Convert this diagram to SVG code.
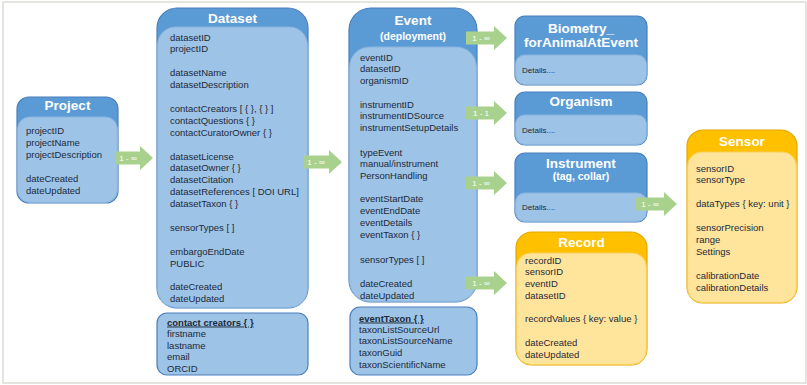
<svg xmlns="http://www.w3.org/2000/svg" width="807" height="385" viewBox="0 0 807 385">
<style>
.frame{fill:#fff;stroke:#dcdcd6;stroke-width:1.5}
.hdr{fill:#5b9bd5;stroke:#4a7ebb;stroke-width:1.2}
.bdy{fill:#9dc3e6;stroke:#8ab4de;stroke-width:1}
.box{fill:#9dc3e6;stroke:#4a7ebb;stroke-width:1.2}
.ohdr{fill:#ffc000;stroke:#e3a700;stroke-width:1.2}
.obdy{fill:#ffe49c;stroke:#f7cf5c;stroke-width:1}
.title{font-family:"Liberation Sans",Arial,sans-serif;font-weight:bold;font-size:13.5px;fill:#fff;text-anchor:middle}
.sub{font-size:10.5px}
.t{font-family:"Liberation Sans",Arial,sans-serif;font-size:9.5px;fill:#1e2a38}
.det{font-size:8px}
.bu{font-weight:bold;text-decoration:underline}
.arr{fill:#a9d18e}
.lbl{font-family:"Liberation Sans",Arial,sans-serif;font-size:8px;fill:#fff;text-anchor:middle}
</style>
<rect class="frame" x="3" y="2" width="803" height="381"/>

<g id="project">
<rect class="hdr" x="17" y="97" width="101" height="106" rx="12"/>
<rect class="bdy" x="17.6" y="117" width="99.8" height="85.4" rx="12"/>
<text class="title" x="67.5" y="110">Project</text>
<text class="t" x="26" y="133.5">projectID</text>
<text class="t" x="26" y="145.5">projectName</text>
<text class="t" x="26" y="157.5">projectDescription</text>
<text class="t" x="26" y="181.5">dateCreated</text>
<text class="t" x="26" y="193.5">dateUpdated</text>
</g>

<g id="dataset">
<rect class="hdr" x="157" y="8" width="151" height="300" rx="20"/>
<rect class="bdy" x="157.6" y="27" width="149.8" height="280.4" rx="18"/>
<text class="title" x="232.5" y="23">Dataset</text>
<text class="t" x="170" y="40.5">datasetID</text>
<text class="t" x="170" y="52.4">projectID</text>
<text class="t" x="170" y="76.2">datasetName</text>
<text class="t" x="170" y="88.1">datasetDescription</text>
<text class="t" x="170" y="111.9">contactCreators [ { }, { } ]</text>
<text class="t" x="170" y="123.8">contactQuestions { }</text>
<text class="t" x="170" y="135.7">contactCuratorOwner  { }</text>
<text class="t" x="170" y="159.5">datasetLicense</text>
<text class="t" x="170" y="171.4">datasetOwner { }</text>
<text class="t" x="170" y="183.3">datasetCitation</text>
<text class="t" x="170" y="195.2">datasetReferences [ DOI URL]</text>
<text class="t" x="170" y="207.1">datasetTaxon { }</text>
<text class="t" x="170" y="230.9">sensorTypes [ ]</text>
<text class="t" x="170" y="254.7">embargoEndDate</text>
<text class="t" x="170" y="266.6">PUBLIC</text>
<text class="t" x="170" y="290.4">dateCreated</text>
<text class="t" x="170" y="302.3">dateUpdated</text>
</g>

<g id="contact-creators">
<rect class="box" x="157" y="313" width="151" height="62" rx="10"/>
<text class="t bu" x="167" y="325.5">contact creators { }</text>
<text class="t" x="167" y="336.8">firstname</text>
<text class="t" x="167" y="348.5">lastname</text>
<text class="t" x="167" y="360.2">email</text>
<text class="t" x="167" y="371.8">ORCID</text>
</g>

<g id="event">
<rect class="hdr" x="349" y="8" width="128" height="294" rx="22"/>
<rect class="bdy" x="349.6" y="47" width="126.8" height="254.4" rx="20"/>
<text class="title" x="413" y="25">Event</text>
<text class="title sub" x="413" y="40">(deployment)</text>
<text class="t" x="360" y="60.5">eventID</text>
<text class="t" x="360" y="72.4">datasetID</text>
<text class="t" x="360" y="84.3">organismID</text>
<text class="t" x="360" y="107.6">instrumentID</text>
<text class="t" x="360" y="119.3">instrumentIDSource</text>
<text class="t" x="360" y="131">instrumentSetupDetails</text>
<text class="t" x="360" y="155.5">typeEvent</text>
<text class="t" x="360" y="167">manual/instrument</text>
<text class="t" x="360" y="178.6">PersonHandling</text>
<text class="t" x="360" y="202">eventStartDate</text>
<text class="t" x="360" y="214">eventEndDate</text>
<text class="t" x="360" y="226">eventDetails</text>
<text class="t" x="360" y="238">eventTaxon { }</text>
<text class="t" x="360" y="262.5">sensorTypes [ ]</text>
<text class="t" x="360" y="286.5">dateCreated</text>
<text class="t" x="360" y="298.5">dateUpdated</text>
</g>

<g id="event-taxon">
<rect class="box" x="350" y="307" width="127" height="68" rx="10"/>
<text class="t bu" x="359" y="321.5">eventTaxon { }</text>
<text class="t" x="359" y="332.8">taxonListSourceUrl</text>
<text class="t" x="359" y="344.2">taxonListSourceName</text>
<text class="t" x="359" y="355.8">taxonGuid</text>
<text class="t" x="359" y="367.5">taxonScientificName</text>
</g>

<g id="biometry">
<rect class="hdr" x="515" y="16" width="132" height="69" rx="10"/>
<rect class="bdy" x="515.6" y="55" width="130.8" height="29.4" rx="9"/>
<text class="title" x="581" y="32.5">Biometry_</text>
<text class="title" x="581" y="47">forAnimalAtEvent</text>
<text class="t det" x="522" y="72.5">Details....</text>
</g>

<g id="organism">
<rect class="hdr" x="515" y="92" width="132" height="53" rx="10"/>
<rect class="bdy" x="515.6" y="115" width="130.8" height="29.4" rx="9"/>
<text class="title" x="581" y="106">Organism</text>
<text class="t det" x="522" y="132.5">Details....</text>
</g>

<g id="instrument">
<rect class="hdr" x="515" y="153" width="132" height="69" rx="10"/>
<rect class="bdy" x="515.6" y="193" width="130.8" height="28.4" rx="9"/>
<text class="title" x="581" y="168">Instrument</text>
<text class="title sub" x="581" y="180">(tag, collar)</text>
<text class="t det" x="522" y="209.5">Details....</text>
</g>

<g id="record">
<rect class="ohdr" x="516" y="232" width="131" height="133" rx="16"/>
<rect class="obdy" x="516.6" y="253" width="129.8" height="111.4" rx="14"/>
<text class="title" x="581.5" y="247">Record</text>
<text class="t" x="525" y="263.5">recordID</text>
<text class="t" x="525" y="275.3">sensorID</text>
<text class="t" x="525" y="287">eventID</text>
<text class="t" x="525" y="298.7">datasetID</text>
<text class="t" x="525" y="322.3">recordValues { key: value }</text>
<text class="t" x="525" y="346">dateCreated</text>
<text class="t" x="525" y="357.8">dateUpdated</text>
</g>

<g id="sensor">
<rect class="ohdr" x="687" y="130" width="110" height="173" rx="16"/>
<rect class="obdy" x="687.6" y="152" width="108.8" height="150.4" rx="14"/>
<text class="title" x="742" y="146">Sensor</text>
<text class="t" x="696" y="171.5">sensorID</text>
<text class="t" x="696" y="183.4">sensorType</text>
<text class="t" x="696" y="207.2">dataTypes { key: unit }</text>
<text class="t" x="696" y="231">sensorPrecision</text>
<text class="t" x="696" y="242.9">range</text>
<text class="t" x="696" y="254.8">Settings</text>
<text class="t" x="696" y="278.6">calibrationDate</text>
<text class="t" x="696" y="290.5">calibrationDetails</text>
</g>

<g id="connectors">
<path class="arr" d="M116,151.5 H140 V146 L153,158 L140,170 V164.5 H116 Z"/>
<text class="lbl" x="128" y="161">1 - ∞</text>
<path class="arr" d="M303,155.5 H329 V150 L342,162 L329,174 V168.5 H303 Z"/>
<text class="lbl" x="316" y="165">1 - ∞</text>
<path class="arr" d="M466,31.5 H494 V26 L507,38 L494,50 V44.5 H466 Z"/>
<text class="lbl" x="481" y="41">1 - ∞</text>
<path class="arr" d="M466,106.5 H494 V101 L507,113 L494,125 V119.5 H466 Z"/>
<text class="lbl" x="481" y="116">1 - 1</text>
<path class="arr" d="M466,176.5 H494 V171 L507,183 L494,195 V189.5 H466 Z"/>
<text class="lbl" x="481" y="186">1 - ∞</text>
<path class="arr" d="M466,276.5 H494 V271 L507,283 L494,295 V289.5 H466 Z"/>
<text class="lbl" x="481" y="286">1 - ∞</text>
<path class="arr" d="M635,197.5 H664 V192 L677,204 L664,216 V210.5 H635 Z"/>
<text class="lbl" x="650" y="207">1 - ∞</text>
</g>
</svg>
